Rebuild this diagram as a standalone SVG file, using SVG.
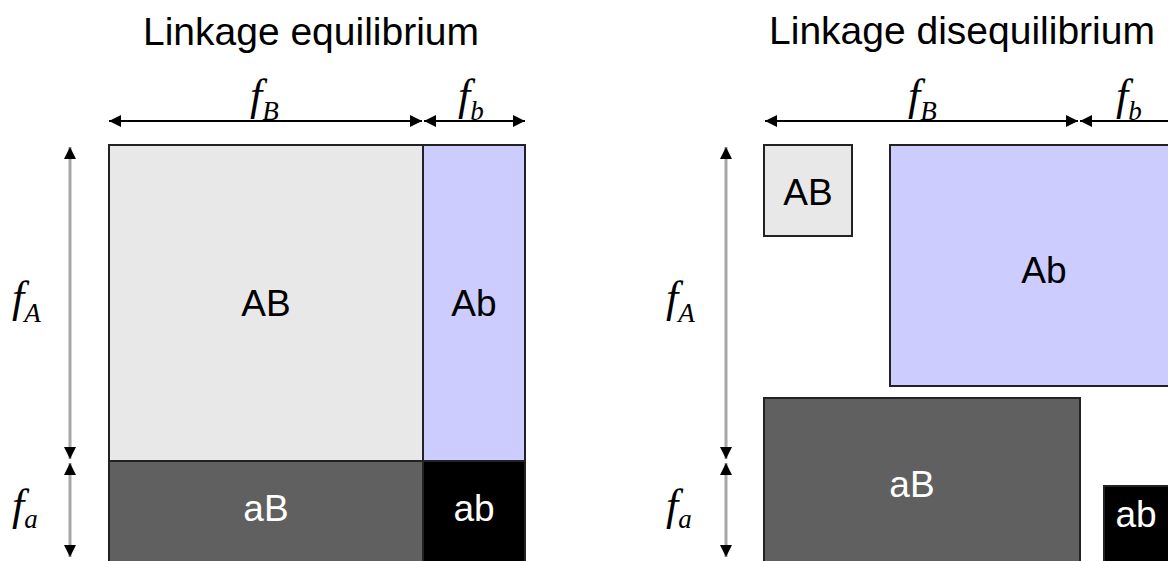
<svg xmlns="http://www.w3.org/2000/svg" width="1168" height="561" viewBox="0 0 1168 561">
<defs>
<style>
.title{font-family:"Liberation Sans",Arial,sans-serif;font-size:39px;fill:#000;text-anchor:middle}
.lbl{font-family:"Liberation Sans",Arial,sans-serif;font-size:37px;text-anchor:middle}
.m{font-family:"Liberation Serif","Times New Roman",serif;font-style:italic;font-size:44px;fill:#000}
.sub{font-size:27px}
.box{stroke:#222;stroke-width:2}
.hl{stroke:#000;stroke-width:2;fill:none}
.vl{stroke:#a6a6a6;stroke-width:3;fill:none}
</style>
<marker id="ah" viewBox="0 0 10 10" refX="10" refY="5" markerWidth="13" markerHeight="12" markerUnits="userSpaceOnUse" orient="auto-start-reverse">
<path d="M0,0 L10,5 L0,10 z" fill="#000"/>
</marker>
</defs>
<rect width="1168" height="561" fill="#fff"/>
<text class="title" x="311" y="45">Linkage equilibrium</text>
<text class="title" x="962" y="44">Linkage disequilibrium</text>

<g id="le-AB"><rect class="box" x="109" y="145" width="314" height="316" fill="#e8e8e8"/><text class="lbl" x="266" y="316" fill="#000">AB</text></g>
<g id="le-Ab"><rect class="box" x="423" y="145" width="102" height="316" fill="#ccccff"/><text class="lbl" x="474" y="316" fill="#000">Ab</text></g>
<g id="le-aB"><rect class="box" x="109" y="461" width="314" height="110" fill="#606060"/><text class="lbl" x="266" y="521" fill="#fff">aB</text></g>
<g id="le-ab"><rect class="box" x="423" y="461" width="102" height="110" fill="#000"/><text class="lbl" x="474" y="521" fill="#fff">ab</text></g>

<g id="ld-AB"><rect class="box" x="764" y="145" width="88" height="91" fill="#e8e8e8"/><text class="lbl" x="808" y="205" fill="#000">AB</text></g>
<g id="ld-Ab"><rect class="box" x="890" y="145" width="300" height="241" fill="#ccccff"/><text class="lbl" x="1044" y="283" fill="#000">Ab</text></g>
<g id="ld-aB"><rect class="box" x="764" y="398" width="316" height="180" fill="#606060"/><text class="lbl" x="912" y="497" fill="#fff">aB</text></g>
<g id="ld-ab"><rect class="box" x="1104" y="486" width="100" height="100" fill="#000"/><text class="lbl" x="1136" y="527" fill="#fff">ab</text></g>

<g id="connectors">
<line class="hl" x1="109" y1="121" x2="422" y2="121" marker-start="url(#ah)" marker-end="url(#ah)"/>
<line class="hl" x1="424" y1="121" x2="525" y2="121" marker-start="url(#ah)" marker-end="url(#ah)"/>
<line class="vl" x1="70" y1="147" x2="70" y2="459" marker-start="url(#ah)" marker-end="url(#ah)"/>
<line class="vl" x1="70" y1="463" x2="70" y2="557" marker-start="url(#ah)" marker-end="url(#ah)"/>
<line class="hl" x1="765" y1="121" x2="1078" y2="121" marker-start="url(#ah)" marker-end="url(#ah)"/>
<line class="hl" x1="1080" y1="121" x2="1270" y2="121" marker-start="url(#ah)" marker-end="url(#ah)"/>
<line class="vl" x1="726" y1="147" x2="726" y2="459" marker-start="url(#ah)" marker-end="url(#ah)"/>
<line class="vl" x1="726" y1="463" x2="726" y2="557" marker-start="url(#ah)" marker-end="url(#ah)"/>
</g>

<g id="labels">
<text class="m" x="250" y="110">f<tspan class="sub" dy="10">B</tspan></text>
<text class="m" x="458" y="110">f<tspan class="sub" dy="10">b</tspan></text>
<text class="m" x="12" y="312">f<tspan class="sub" dy="10">A</tspan></text>
<text class="m" x="12" y="520">f<tspan class="sub" dy="8">a</tspan></text>
<text class="m" x="908" y="110">f<tspan class="sub" dy="10">B</tspan></text>
<text class="m" x="1116" y="110">f<tspan class="sub" dy="10">b</tspan></text>
<text class="m" x="666" y="312">f<tspan class="sub" dy="10">A</tspan></text>
<text class="m" x="666" y="520">f<tspan class="sub" dy="8">a</tspan></text>
</g>
</svg>
